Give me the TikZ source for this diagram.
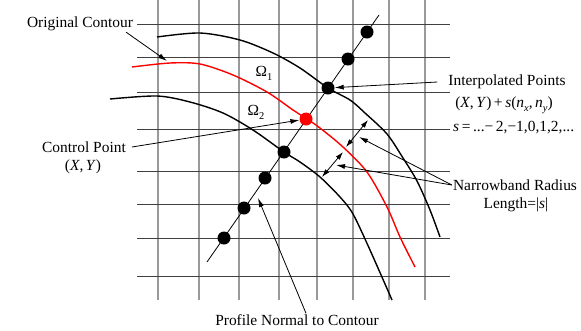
\documentclass[tikz,border=0pt]{standalone}
\usepackage{fontspec}
\setmainfont{Liberation Serif}
\usetikzlibrary{arrows.meta}
\newcommand{\lowidx}[1]{\raisebox{-0.55ex}{\fontsize{10.5}{12}\selectfont #1}}
\definecolor{contourred}{HTML}{FF0000}
\tikzset{
  lbl/.style={font=\fontsize{15.5}{18}\selectfont, inner sep=1bp},
  dot/.style={circle, fill=black, inner sep=0pt, minimum size=13bp},
  contour/.style={line width=1.4bp},
  arr/.style={-{Latex[length=9bp,width=5bp]}, line width=0.8bp},
  dbl/.style={{Latex[length=8bp,width=5bp]}-{Latex[length=8bp,width=5bp]}, line width=0.8bp},
}
\begin{document}
\begin{tikzpicture}[x=1bp, y=-1bp]
\useasboundingbox (0,0) rectangle (581,330);

% Grid
\foreach \gx in {158,199,239,279,317,353,389,425}
  \draw[gray!80, line width=1.3bp] (\gx,0) -- (\gx,300);
\foreach \gy in {24,57,92,129,171,204,238,276}
  \draw[black!75, line width=0.8bp] (137,\gy) -- (450,\gy);

% Contours
\draw[contour] plot[smooth] coordinates {(157,37) (200,33) (240,40) (273,53) (300,68) (328,88) (350,100) (365,113) (387,134) (403,158) (417,181) (430,210) (440,237)};
\draw[contour, contourred] plot[smooth] coordinates {(132,67) (170,63) (200,64) (233,75) (267,92) (293,110) (307,119) (320,128) (343,147) (367,172) (387,207) (400,237) (415,267)};
\draw[contour] plot[smooth] coordinates {(110,99) (157,96) (190,102) (223,113) (253,130) (284,152) (300,162) (320,177) (340,197) (353,214) (370,250) (392,300)};

% Profile normal and sample points
\coordinate (nlo) at (207,262);
\coordinate (nhi) at (379,15);
\draw[line width=0.8bp] (nlo) -- (nhi);
\node[dot] (p1) at (367,32) {};
\node[dot] (p2) at (348,59) {};
\node[dot] (p3) at (328,88) {};
\node[dot, fill=contourred] (cdot) at (306,119) {};
\node[dot] (p5) at (284,152) {};
\node[dot] (p6) at (265,178) {};
\node[dot] (p7) at (244,208) {};
\node[dot] (p8) at (224,238) {};

% Narrow band widths
\coordinate (a1) at (368,120);
\coordinate (a2) at (346,147);
\coordinate (b1) at (343,152);
\coordinate (b2) at (322,177);
\draw[dbl] (a1) -- (a2);
\draw[dbl] (b1) -- (b2);

% Labels
\node[lbl] (oc) at (80,24) {Original Contour};
\node[lbl] (om1) at (264,73) {Ω\lowidx{1}};
\node[lbl] (om2) at (256,112) {Ω\lowidx{2}};
\node[lbl] (cp) at (84,147) {Control Point};
\node[lbl] (cpxy) at (83,167) {(\textit{X},\,\textit{Y})};
\node[lbl] (ip) at (507,82) {Interpolated Points};
\node[lbl] (ipf) at (504,105) {(\textit{X},\,\textit{Y})\,+\,\textit{s}(\textit{n}\lowidx{\textit{x}},\,\textit{n}\lowidx{\textit{y}})};
\node[lbl, anchor=west] (ss) at (452,128) {\textit{s}\,=\,...−\,2,−1,0,1,2,...};
\node[lbl] (nb) at (515,185) {Narrowband Radius};
\node[lbl] (len) at (516,205) {Length=|\textit{s}|};
\node[lbl] (pn) at (297,320) {Profile Normal to Contour};

% Pointers
\coordinate (oct) at (167,61);
\coordinate (t1) at (359,137);
\coordinate (t2) at (336,165);
\coordinate (pnt) at (258,198);
\draw[arr] ([xshift=-8bp]oc.south east) -- (oct);
\draw[arr] ([xshift=5bp]cp.east) -- (cdot);
\draw[arr] ([xshift=-10bp]ip.west) -- (p3);
\draw[arr] (nb.west) -- (t1);
\draw[arr] (nb.west) -- (t2);
\draw[arr] ([xshift=9bp]pn.north) -- (pnt);

\end{tikzpicture}
\end{document}
